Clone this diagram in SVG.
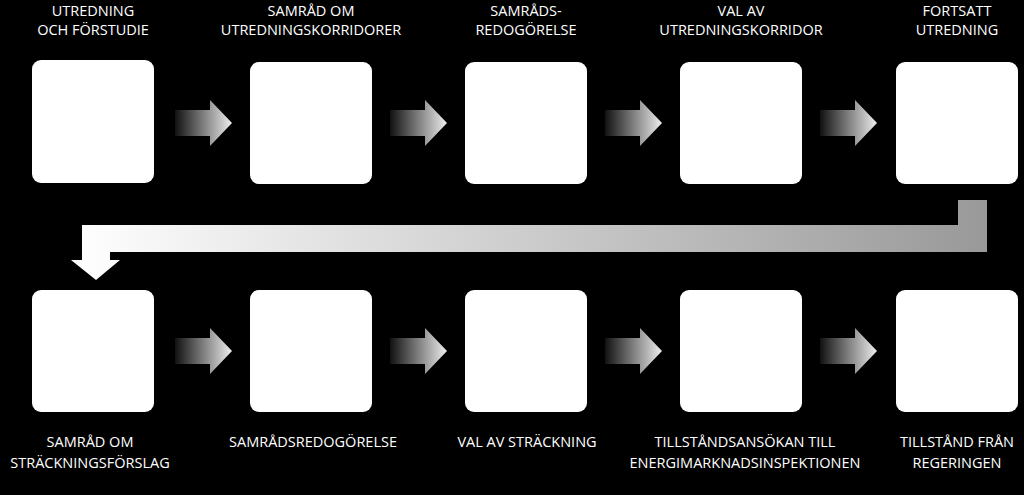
<svg xmlns="http://www.w3.org/2000/svg" width="1024" height="495" viewBox="0 0 1024 495">
<defs>
<linearGradient id="ag" x1="0" x2="1" y1="0" y2="0"><stop offset="0" stop-color="#111"/><stop offset="1" stop-color="#eee"/></linearGradient>
<linearGradient id="cg" x1="0" x2="1" y1="0" y2="0"><stop offset="0" stop-color="#fff"/><stop offset="1" stop-color="#999"/></linearGradient>
<path id="arr" d="M0 -13 H35 V-23 L57 0 L35 23 V13 H0 Z" fill="url(#ag)"/>
</defs>
<style>
.b{fill:#fff}
text{font-family:"Open Sans","Noto Sans",sans-serif;font-size:14.5px;fill:#fff;text-anchor:middle}
</style>
<rect width="1024" height="495" fill="#000"/>
<g id="connectors">
<use href="#arr" x="175" y="123"/><use href="#arr" x="390" y="123"/><use href="#arr" x="605" y="123"/><use href="#arr" x="820" y="123"/>
<use href="#arr" x="175" y="351"/><use href="#arr" x="390" y="351"/><use href="#arr" x="605" y="351"/><use href="#arr" x="820" y="351"/>
<path d="M958 200 H987 V252 H110 V260 H120 L96 280 L71 260 H82 V225 H958 Z" fill="url(#cg)"/>
</g>
<g id="n1"><rect class="b" x="32" y="60" width="122" height="123" rx="9"/><text x="93" y="16">UTREDNING</text><text x="93" y="35">OCH FÖRSTUDIE</text></g>
<g id="n2"><rect class="b" x="250" y="62" width="122" height="122" rx="9"/><text x="311" y="16">SAMRÅD OM</text><text x="311" y="35">UTREDNINGSKORRIDORER</text></g>
<g id="n3"><rect class="b" x="465" y="62" width="122" height="122" rx="9"/><text x="526" y="16">SAMRÅDS-</text><text x="526" y="35">REDOGÖRELSE</text></g>
<g id="n4"><rect class="b" x="680" y="62" width="122" height="122" rx="9"/><text x="741" y="16">VAL AV</text><text x="741" y="35">UTREDNINGSKORRIDOR</text></g>
<g id="n5"><rect class="b" x="896" y="62" width="122" height="122" rx="9"/><text x="957" y="16">FORTSATT</text><text x="957" y="35">UTREDNING</text></g>
<g id="n6"><rect class="b" x="32" y="290" width="122" height="122" rx="9"/><text x="90" y="447">SAMRÅD OM</text><text x="90" y="468">STRÄCKNINGSFÖRSLAG</text></g>
<g id="n7"><rect class="b" x="250" y="290" width="122" height="122" rx="9"/><text x="313" y="447">SAMRÅDSREDOGÖRELSE</text></g>
<g id="n8"><rect class="b" x="465" y="290" width="122" height="122" rx="9"/><text x="527" y="447">VAL AV STRÄCKNING</text></g>
<g id="n9"><rect class="b" x="680" y="290" width="122" height="122" rx="9"/><text x="745" y="447">TILLSTÅNDSANSÖKAN TILL</text><text x="745" y="468">ENERGIMARKNADSINSPEKTIONEN</text></g>
<g id="n10"><rect class="b" x="896" y="290" width="122" height="122" rx="9"/><text x="957" y="447">TILLSTÅND FRÅN</text><text x="957" y="468">REGERINGEN</text></g>
</svg>
